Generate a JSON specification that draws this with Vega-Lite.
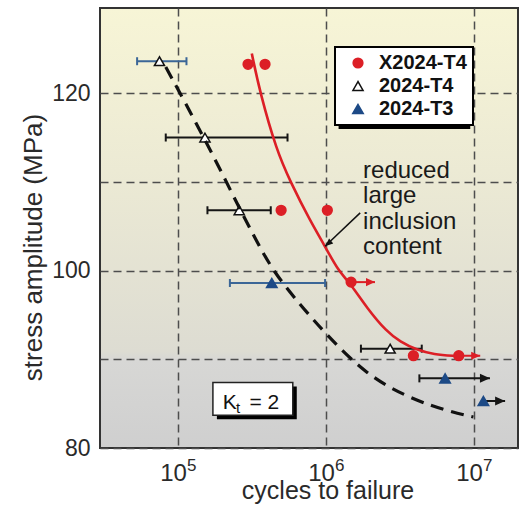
{
  "$schema": "https://vega.github.io/schema/vega-lite/v6.json",
  "width": 418,
  "height": 440,
  "autosize": "none",
  "padding": {"left": 100, "top": 8, "right": 4, "bottom": 58},
  "background": "white",
  "view": {
    "fill": {"gradient": "linear", "x1": 0, "y1": 0, "x2": 0, "y2": 1,
      "stops": [
        {"offset": 0, "color": "#f7f5d6"},
        {"offset": 0.4, "color": "#ebe9d4"},
        {"offset": 0.78, "color": "#dddcd2"},
        {"offset": 0.8, "color": "#d7d7d5"},
        {"offset": 1, "color": "#cfcfcf"}
      ]},
    "stroke": "#333333",
    "strokeWidth": 2
  },
  "config": {
    "font": "Liberation Sans",
    "axis": {
      "grid": true, "gridColor": "#4d4d4d", "gridDash": [8, 5], "gridWidth": 1.5, "gridOpacity": 1,
      "ticks": false, "domain": false, "labelColor": "#2a2a2a", "titleColor": "#2a2a2a",
      "labelFont": "Liberation Sans", "titleFont": "Liberation Sans", "titleFontWeight": "normal"
    },
    "legend": {
      "orient": "none", "legendX": 235, "legendY": 39,
      "fillColor": "white", "strokeColor": "black", "strokeWidth": 2,
      "padding": 6, "labelFontSize": 20, "labelFontWeight": "bold", "labelColor": "#111111",
      "labelFont": "Liberation Sans", "rowPadding": 3, "labelOffset": 11, "symbolOffset": 7,
      "symbolStrokeWidth": 1.5
    }
  },
  "datasets": {
    "curves": [
      {"curve": "X2024-T4", "x": 315000, "y": 124.46},
      {"curve": "X2024-T4", "x": 358000, "y": 120.05},
      {"curve": "X2024-T4", "x": 464000, "y": 113.5},
      {"curve": "X2024-T4", "x": 571000, "y": 110.1},
      {"curve": "X2024-T4", "x": 780000, "y": 105.6},
      {"curve": "X2024-T4", "x": 984000, "y": 102.75},
      {"curve": "X2024-T4", "x": 1205000, "y": 100.0},
      {"curve": "X2024-T4", "x": 1475000, "y": 98.45},
      {"curve": "X2024-T4", "x": 1884000, "y": 95.8},
      {"curve": "X2024-T4", "x": 2570000, "y": 93.1},
      {"curve": "X2024-T4", "x": 3160000, "y": 92.0},
      {"curve": "X2024-T4", "x": 4100000, "y": 91.05},
      {"curve": "X2024-T4", "x": 5310000, "y": 90.55},
      {"curve": "X2024-T4", "x": 7640000, "y": 90.37},
      {"curve": "2024-T4", "x": 82600, "y": 122.95},
      {"curve": "2024-T4", "x": 152000, "y": 114.84},
      {"curve": "2024-T4", "x": 262000, "y": 106.9},
      {"curve": "2024-T4", "x": 340000, "y": 103.3},
      {"curve": "2024-T4", "x": 440000, "y": 99.9},
      {"curve": "2024-T4", "x": 667000, "y": 96.15},
      {"curve": "2024-T4", "x": 1010000, "y": 92.75},
      {"curve": "2024-T4", "x": 1880000, "y": 88.2},
      {"curve": "2024-T4", "x": 3700000, "y": 85.57},
      {"curve": "2024-T4", "x": 6890000, "y": 84.07},
      {"curve": "2024-T4", "x": 9890000, "y": 83.5}
    ],
    "pts": [
      {"series": "X2024-T4", "x": 297000, "y": 123.25},
      {"series": "X2024-T4", "x": 387000, "y": 123.25},
      {"series": "X2024-T4", "x": 497000, "y": 106.8},
      {"series": "X2024-T4", "x": 1020000, "y": 106.8},
      {"series": "X2024-T4", "x": 1476000, "y": 98.7},
      {"series": "X2024-T4", "x": 3890000, "y": 90.4},
      {"series": "X2024-T4", "x": 7880000, "y": 90.4},
      {"series": "2024-T4", "x": 74900, "y": 123.6},
      {"series": "2024-T4", "x": 152000, "y": 115.0},
      {"series": "2024-T4", "x": 259000, "y": 106.8},
      {"series": "2024-T4", "x": 2710000, "y": 91.2},
      {"series": "2024-T3", "x": 430000, "y": 98.6},
      {"series": "2024-T3", "x": 6370000, "y": 87.85},
      {"series": "2024-T3", "x": 11560000, "y": 85.3}
    ],
    "barsBlue": [
      {"series": "2024-T4", "x": 74900, "y": 123.6, "lo": 52900, "hi": 114000},
      {"series": "2024-T3", "x": 430000, "y": 98.6, "lo": 224000, "hi": 985000}
    ],
    "barsBlack": [
      {"series": "2024-T4", "x": 152000, "y": 115.0, "lo": 82600, "hi": 549000},
      {"series": "2024-T4", "x": 259000, "y": 106.8, "lo": 158000, "hi": 423000},
      {"series": "2024-T4", "x": 2710000, "y": 91.2, "lo": 1720000, "hi": 4430000}
    ],
    "runouts": [
      {"series": "X2024-T4", "x": 1476000, "y": 98.7, "from": 1476000, "tip": 2140000},
      {"series": "X2024-T4", "x": 7880000, "y": 90.4, "from": 7880000, "tip": 11000000},
      {"series": "2024-T3", "x": 6370000, "y": 87.85, "from": 4270000, "tip": 12800000},
      {"series": "2024-T3", "x": 11560000, "y": 85.3, "from": 11560000, "tip": 16200000}
    ],
    "exponents": [
      {"x": 100000, "y": 80, "label": "5"},
      {"x": 1000000, "y": 80, "label": "6"},
      {"x": 10000000, "y": 80, "label": "7"}
    ],
    "legendShadow": [{"x": 1215000, "x2": 9420000, "y": 124.81, "y2": 115.95}],
    "ktShadow": [{"x": 183000, "x2": 634000, "y": 86.93, "y2": 83.24}],
    "ktBox": [{"x": 172000, "x2": 596000, "y": 87.38, "y2": 83.69}],
    "ktK": [{"x": 200500, "y": 84.44, "label": "K"}],
    "ktSub": [{"x": 246000, "y": 83.9, "label": "t"}],
    "ktEq": [{"x": 304000, "y": 84.44, "label": "= 2"}],
    "note": [{"x": 1778000, "y": 110.49, "label": ["reduced", "large", "inclusion", "content"]}],
    "pointer": [{"x": 1700000, "y": 106.5, "x2": 984000, "y2": 102.75}]
  },
  "encoding": {
    "x": {"field": "x", "type": "quantitative",
      "scale": {"type": "log", "domain": [29700, 19800000], "nice": false},
      "axis": {"values": [100000, 1000000, 10000000],
        "labelExpr": "'10'",
        "labelFontSize": 24, "labelBaseline": "alphabetic", "labelPadding": 32, "labelOffset": -5,
        "title": "cycles to failure", "titleFontSize": 25, "titleX": 227.5, "titleY": 50,
        "titleBaseline": "alphabetic", "titleAlign": "center"}},
    "y": {"field": "y", "type": "quantitative",
      "scale": {"domain": [80, 129.6], "nice": false, "zero": false},
      "axis": {"values": [80, 90, 100, 110, 120],
        "labelExpr": "datum.value % 20 == 0 ? datum.label : ''",
        "labelFontSize": 23, "labelPadding": 10, "labelBaseline": "middle",
        "title": "stress amplitude (MPa)", "titleFontSize": 26, "titleX": -59, "titleY": 239,
        "titleBaseline": "alphabetic", "titleAlign": "center", "titleAngle": -90}}
  },
  "layer": [
    {"data": {"name": "legendShadow"}, "mark": {"type": "rect", "color": "black"},
      "encoding": {"x2": {"field": "x2"}, "y2": {"field": "y2"}}},
    {"data": {"name": "ktShadow"}, "mark": {"type": "rect", "color": "black"},
      "encoding": {"x2": {"field": "x2"}, "y2": {"field": "y2"}}},
    {"data": {"name": "ktBox"}, "mark": {"type": "rect", "fill": "white", "stroke": "#222222", "strokeWidth": 1.5},
      "encoding": {"x2": {"field": "x2"}, "y2": {"field": "y2"}}},
    {"data": {"name": "ktK"}, "mark": {"type": "text", "align": "left", "baseline": "alphabetic", "fontSize": 21, "color": "#111111"},
      "encoding": {"text": {"field": "label"}}},
    {"data": {"name": "ktSub"}, "mark": {"type": "text", "align": "left", "baseline": "alphabetic", "fontSize": 15, "color": "#111111"},
      "encoding": {"text": {"field": "label"}}},
    {"data": {"name": "ktEq"}, "mark": {"type": "text", "align": "left", "baseline": "alphabetic", "fontSize": 21, "color": "#111111"},
      "encoding": {"text": {"field": "label"}}},
    {"data": {"name": "exponents"}, "mark": {"type": "text", "align": "left", "baseline": "alphabetic", "fontSize": 17, "color": "#2a2a2a", "dx": 9, "dy": 23},
      "encoding": {"text": {"field": "label"}}},
    {"data": {"name": "barsBlue"}, "mark": {"type": "rule", "color": "#3b6697", "strokeWidth": 2},
      "encoding": {"x": {"field": "lo", "type": "quantitative"}, "x2": {"field": "hi"}}},
    {"data": {"name": "barsBlue"}, "transform": [{"fold": ["lo", "hi"], "as": ["end", "cx"]}],
      "mark": {"type": "point", "shape": "M0,-1L0,1", "size": 64, "filled": false, "stroke": "#3b6697", "strokeWidth": 2, "opacity": 1},
      "encoding": {"x": {"field": "cx", "type": "quantitative"}}},
    {"data": {"name": "barsBlack"}, "mark": {"type": "rule", "color": "#151515", "strokeWidth": 2},
      "encoding": {"x": {"field": "lo", "type": "quantitative"}, "x2": {"field": "hi"}}},
    {"data": {"name": "barsBlack"}, "transform": [{"fold": ["lo", "hi"], "as": ["end", "cx"]}],
      "mark": {"type": "point", "shape": "M0,-1L0,1", "size": 64, "filled": false, "stroke": "#151515", "strokeWidth": 2, "opacity": 1},
      "encoding": {"x": {"field": "cx", "type": "quantitative"}}},
    {"data": {"name": "runouts"}, "transform": [{"filter": "datum.series == 'X2024-T4'"}],
      "mark": {"type": "rule", "color": "#dc1f26", "strokeWidth": 2},
      "encoding": {"x": {"field": "from", "type": "quantitative"}, "x2": {"field": "tip"}}},
    {"data": {"name": "runouts"}, "transform": [{"filter": "datum.series == 'X2024-T4'"}],
      "mark": {"type": "point", "shape": "M0,0L-2,-0.9L-2,0.9Z", "size": 81, "filled": true, "color": "#dc1f26", "opacity": 1},
      "encoding": {"x": {"field": "tip", "type": "quantitative"}}},
    {"data": {"name": "runouts"}, "transform": [{"filter": "datum.series == '2024-T3'"}],
      "mark": {"type": "rule", "color": "#151515", "strokeWidth": 2},
      "encoding": {"x": {"field": "from", "type": "quantitative"}, "x2": {"field": "tip"}}},
    {"data": {"name": "runouts"}, "transform": [{"filter": "datum.series == '2024-T3'"}],
      "mark": {"type": "point", "shape": "M0,0L-2,-0.9L-2,0.9Z", "size": 100, "filled": true, "color": "#151515", "opacity": 1},
      "encoding": {"x": {"field": "tip", "type": "quantitative"}}},
    {"data": {"name": "runouts"}, "transform": [{"filter": "datum.from < datum.x"}],
      "mark": {"type": "point", "shape": "M0,-1L0,1", "size": 64, "filled": false, "stroke": "#151515", "strokeWidth": 2, "opacity": 1},
      "encoding": {"x": {"field": "from", "type": "quantitative"}}},
    {"data": {"name": "pts"},
      "mark": {"type": "point", "filled": true, "strokeWidth": 1.5, "opacity": 1},
      "encoding": {
        "shape": {"field": "series", "type": "nominal", "scale": {"domain": ["X2024-T4", "2024-T4", "2024-T3"], "range": ["circle", "triangle-up", "triangle-up"]}, "legend": {"title": null}},
        "fill": {"field": "series", "type": "nominal", "scale": {"domain": ["X2024-T4", "2024-T4", "2024-T3"], "range": ["#dc1f26", "white", "#1d4a86"]}, "legend": {"title": null}},
        "stroke": {"field": "series", "type": "nominal", "scale": {"domain": ["X2024-T4", "2024-T4", "2024-T3"], "range": ["#dc1f26", "#111111", "#1d4a86"]}, "legend": {"title": null}},
        "size": {"field": "series", "type": "nominal", "scale": {"domain": ["X2024-T4", "2024-T4", "2024-T3"], "range": [95, 110, 150]}, "legend": {"title": null}}
      }},
    {"data": {"name": "curves"}, "transform": [{"filter": "datum.curve == 'X2024-T4'"}],
      "mark": {"type": "line", "color": "#dc1f26", "strokeWidth": 2.6, "interpolate": "basis"}},
    {"data": {"name": "curves"}, "transform": [{"filter": "datum.curve == '2024-T4'"}],
      "mark": {"type": "line", "color": "#111111", "strokeWidth": 3.2, "strokeDash": [13, 8], "interpolate": "basis"}},
    {"data": {"name": "note"}, "mark": {"type": "text", "align": "left", "baseline": "alphabetic", "fontSize": 24, "lineHeight": 25.5, "color": "#1a1a1a"},
      "encoding": {"text": {"field": "label"}}},
    {"data": {"name": "pointer"}, "mark": {"type": "rule", "color": "#111111", "strokeWidth": 1.5},
      "encoding": {"x2": {"field": "x2"}, "y2": {"field": "y2"}}},
    {"data": {"name": "pointer"}, "mark": {"type": "point", "shape": "M0,0L-2,-0.8L-2,0.8Z", "size": 64, "filled": true, "color": "#111111", "opacity": 1, "angle": 140},
      "encoding": {"x": {"field": "x2", "type": "quantitative"}, "y": {"field": "y2", "type": "quantitative"}}}
  ]
}
